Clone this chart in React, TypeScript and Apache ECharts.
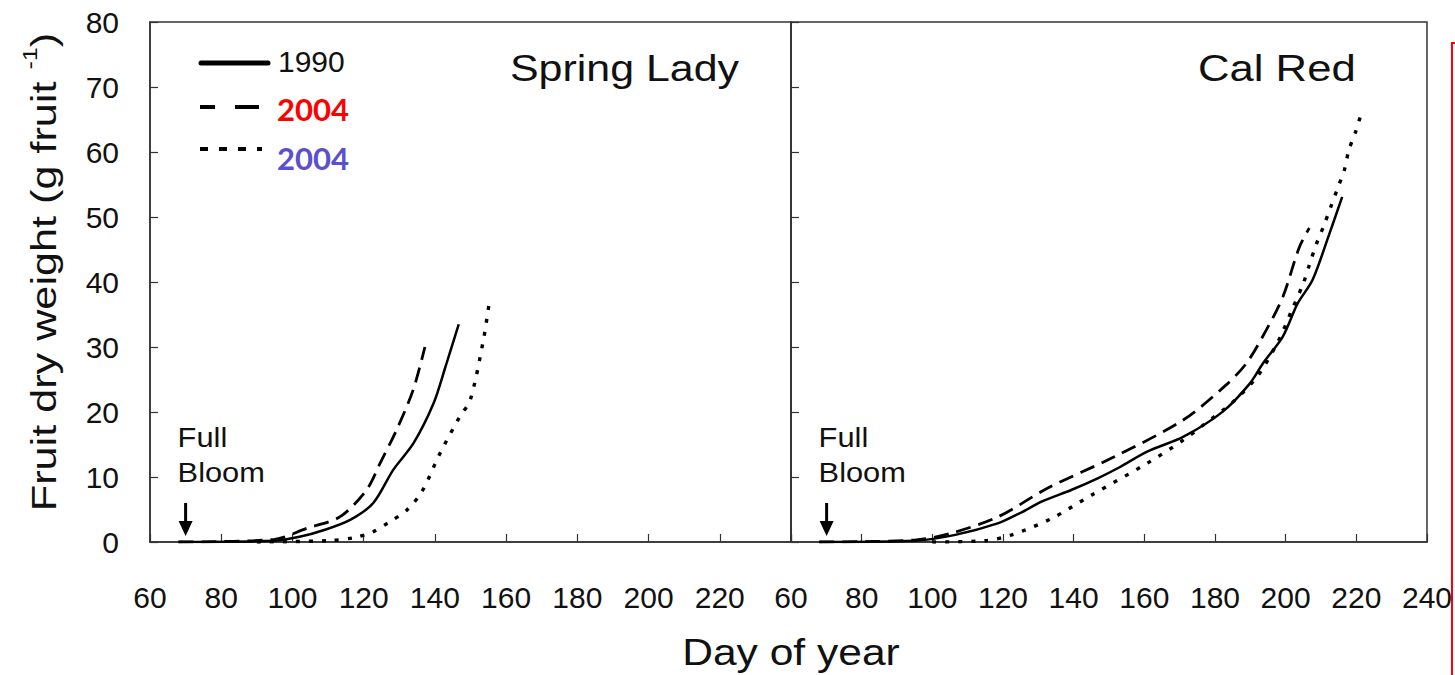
import React, { useEffect, useRef } from "react";
import * as echarts from "echarts";

// Spring Lady (left panel)
const sl1990Days = [68, 95, 102, 108.7, 116.2, 122.7, 128.3, 134, 139.6, 143, 146.7];
const sl1990Vals = [0, 0.2, 0.8, 1.8, 3.4, 6.0, 11.1, 15.2, 21.3, 27, 33.5];
const slDashDays = [68, 95, 104, 113.4, 120.8, 124.6, 129.2, 133.9, 137.2];
const slDashVals = [0, 0.4, 2.1, 3.9, 8.0, 12.1, 17.2, 23.4, 30];
const slDotDays = [90, 110, 117.6, 122.7, 127, 132.1, 136.3, 141.4, 147, 149.9, 153.6, 155.3];
const slDotVals = [0, 0.2, 0.7, 1.6, 3.0, 4.9, 7.7, 13.6, 19.3, 21.8, 31, 37];

// Cal Red (right panel)
const cr1990Days = [68, 95, 106.5, 118.7, 125, 130.9, 139.3, 146.8, 153, 160.8, 171.1, 182.3, 189.9, 193.6, 199.2, 203.4, 207.6, 212.3, 216];
const cr1990Vals = [0, 0.2, 1.1, 2.9, 4.5, 6.2, 8.0, 9.8, 11.5, 13.9, 16.2, 20.1, 24.4, 27.5, 31.6, 36.7, 40.3, 47.3, 53.1];
const crDashDays = [68, 95, 105, 118.7, 132.7, 151.5, 171.1, 183, 188.9, 194.5, 199.2, 203.9, 206.7];
const crDashVals = [0, 0.3, 1.3, 3.9, 8.3, 13.1, 18.8, 24.1, 27.5, 32.6, 37.7, 45.4, 48.3];
const crDotDays = [100, 115, 122.5, 133.7, 145, 160.8, 171.1, 176.7, 185, 192, 198, 202, 205, 206.7, 208.6, 210.9, 212.8, 214.7, 216.6, 217.9, 219.8, 221.7];
const crDotVals = [0, 0.2, 1.1, 3.6, 7.2, 12.1, 15.7, 18.0, 21.5, 25.5, 31, 36, 39.8, 42.6, 45.7, 48.8, 51.6, 54.4, 57.2, 60.3, 63.1, 66.5];

const xMin = 60, xMax = 240, xStep = 20;
const yMin = 0, yMax = 80, yStep = 10;
const panelTitles = ["Spring Lady", "Cal Red"];
const legendLabels = ["1990", "2004", "2004"];
const bloomDay = 70;

const pair = (d: number[], v: number[]) => d.map((x, i) => [x, v[i]]);
const FONT = '"Liberation Sans", Arial, sans-serif';
const INK = "#111";

export default function App() {
  const ref = useRef<HTMLDivElement>(null);
  useEffect(() => {
    const chart = echarts.init(ref.current!, null, { renderer: "svg" });
    const grids = [
      { left: 150, top: 22, width: 641, height: 520 },
      { left: 791, top: 22, width: 641, height: 520 },
    ];
    const xAxis = [0, 1].map((i) => ({
      type: "value",
      gridIndex: i,
      min: xMin,
      max: xMax,
      interval: xStep,
      axisLine: { show: true, lineStyle: { color: "#333", width: 1.5 } },
      axisTick: { show: true, inside: true, length: 8, lineStyle: { color: "#333", width: 1.2 } },
      axisLabel: {
        margin: 40,
        color: INK,
        fontSize: 30,
        fontFamily: FONT,
        formatter: (v: number) => (i === 0 && v === xMax ? "" : String(v)),
      },
      splitLine: { show: false },
    }));
    const yAxis = [0, 1].map((i) => ({
      type: "value",
      gridIndex: i,
      min: yMin,
      max: yMax,
      interval: yStep,
      axisLine: { show: true, lineStyle: { color: "#333", width: 1.5 } },
      axisTick: { show: true, inside: true, length: 8, lineStyle: { color: "#333", width: 1.2 } },
      axisLabel: { show: i === 0, margin: 31, color: INK, fontSize: 30, fontFamily: FONT },
      splitLine: { show: false },
    }));
    const mk = (name: string, d: number[], v: number[], gi: number, type: any, width: number) => ({
      name,
      type: "line",
      xAxisIndex: gi,
      yAxisIndex: gi,
      data: pair(d, v),
      symbol: "none",
      smooth: 0.3,
      lineStyle: { color: "#000", width, type, cap: "butt" },
    });
    const series = [
      mk("1990", sl1990Days, sl1990Vals, 0, "solid", 2.5),
      mk("2004", slDashDays, slDashVals, 0, [15, 8], 2.8),
      mk("2004 b", slDotDays, slDotVals, 0, [4, 9], 3.4),
      mk("1990 CR", cr1990Days, cr1990Vals, 1, "solid", 2.5),
      mk("2004 CR", crDashDays, crDashVals, 1, [15, 8], 2.8),
      mk("2004 b CR", crDotDays, crDotVals, 1, [4, 9], 3.4),
    ];

    const t = (text: string, x: number, y: number, font: string, fill = INK, extra: any = {}) => ({
      type: "text",
      x,
      y,
      ...extra,
      style: { text, font, fill, align: "left", verticalAlign: "middle", ...(extra.style || {}) },
    });

    const arrowX = [0, 1].map((i) => grids[i].left + ((bloomDay - xMin) / (xMax - xMin)) * grids[i].width);
    const bloom: any[] = [];
    arrowX.forEach((ax) => {
      bloom.push(t("Full", ax - 8, 437, `28px ${FONT}`, INK, { scaleX: 1.1 }));
      bloom.push(t("Bloom", ax - 8, 472, `28px ${FONT}`, INK, { scaleX: 1.1 }));
      bloom.push({ type: "line", shape: { x1: ax, y1: 503, x2: ax, y2: 524 }, style: { stroke: "#000", lineWidth: 3 } });
      bloom.push({ type: "polygon", shape: { points: [[ax - 7, 521], [ax + 7, 521], [ax, 536]] }, style: { fill: "#000" } });
    });

    const graphic: any[] = [
      // legend
      { type: "line", shape: { x1: 201, y1: 63, x2: 268, y2: 63 }, style: { stroke: "#000", lineWidth: 5, lineCap: "round" } },
      { type: "line", shape: { x1: 200, y1: 107, x2: 215, y2: 107 }, style: { stroke: "#000", lineWidth: 4 } },
      { type: "line", shape: { x1: 235, y1: 107, x2: 259, y2: 107 }, style: { stroke: "#000", lineWidth: 4 } },
      { type: "line", shape: { x1: 200, y1: 149, x2: 262, y2: 149 }, style: { stroke: "#000", lineWidth: 4, lineDash: [8, 11] } },
      t(legendLabels[0], 278, 61, `30px ${FONT}`),
      t(legendLabels[1], 277, 109, `bold 31px Lato, "Open Sans", sans-serif`, "#ff0000"),
      t(legendLabels[2], 277, 158, `bold 31px Lato, "Open Sans", sans-serif`, "#5a4fcf"),
      // titles
      t(panelTitles[0], 510, 68, `37px ${FONT}`, INK, { scaleX: 1.16 }),
      t(panelTitles[1], 1198, 68, `37px ${FONT}`, INK, { scaleX: 1.18 }),
      ...bloom,
      // x axis name
      {
        type: "text",
        x: 791,
        y: 652,
        scaleX: 1.15,
        style: { text: "Day of year", font: `37px ${FONT}`, fill: INK, align: "center", verticalAlign: "middle" },
      },
      // y axis name
      {
        type: "text",
        x: 40,
        y: 272,
        rotation: Math.PI / 2,
        scaleX: 1.2,
        style: {
          text: "{a|Fruit dry weight (g fruit }{s|-1}{a|)}",
          fill: INK,
          align: "center",
          verticalAlign: "middle",
          rich: {
            a: { fontSize: 36, fontFamily: FONT, fill: INK, lineHeight: 42, verticalAlign: "bottom" },
            s: { fontSize: 21, fontFamily: FONT, fill: INK, lineHeight: 42, verticalAlign: "top" },
          },
        },
      },
      // red frame on the right edge
      { type: "rect", shape: { x: 1452, y: 43, width: 40, height: 700 }, style: { fill: "none", stroke: "#ff0000", lineWidth: 2 } },
    ];

    chart.setOption({
      animation: false,
      backgroundColor: "#fff",
      grid: grids.map((g) => ({ ...g, show: true, borderColor: "#333", borderWidth: 1.5, backgroundColor: "transparent" })),
      xAxis,
      yAxis,
      series,
      graphic,
    } as any);
    return () => chart.dispose();
  }, []);
  return <div ref={ref} style={{ position: "fixed", left: 0, top: 0, width: 1455, height: 675 }} />;
}
